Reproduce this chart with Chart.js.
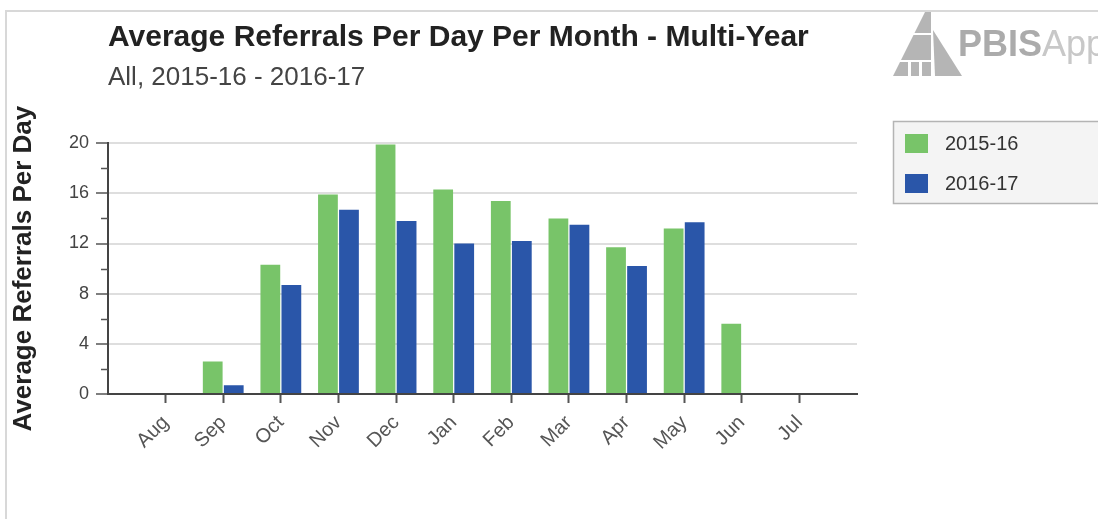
<!DOCTYPE html>
<html>
<head>
<meta charset="utf-8">
<script src="https://cdn.jsdelivr.net/npm/chart.js@4/dist/chart.umd.min.js"></script>
<style>
  html, body { margin: 0; padding: 0; background: #ffffff; }
  #wrap { position: relative; width: 1098px; height: 519px; overflow: hidden; }
  #frame { position: absolute; left: 5px; top: 10px; width: 1200px; height: 600px;
           border-top: 2px solid #d8d8d8; border-left: 2px solid #d8d8d8; }
  canvas { position: absolute; left: 0; top: 0; }
</style>
</head>
<body>
<div id="wrap">
  <div id="frame"></div>
  <canvas id="c" width="1098" height="519"></canvas>
</div>
<script>
// ---- data ----
const titleText = 'Average Referrals Per Day Per Month - Multi-Year';
const subtitleText = 'All, 2015-16 - 2016-17';
const yAxisTitle = 'Average Referrals Per Day';
const months = ['Aug', 'Sep', 'Oct', 'Nov', 'Dec', 'Jan', 'Feb', 'Mar', 'Apr', 'May', 'Jun', 'Jul'];
const seriesNames = ['2015-16', '2016-17'];
const values2015_16 = [null, 2.6, 10.3, 15.9, 19.9, 16.3, 15.4, 14.0, 11.7, 13.2, 5.6, null];
const values2016_17 = [null, 0.7, 8.7, 14.7, 13.8, 12.0, 12.2, 13.5, 10.2, 13.7, null, null];
const yTicks = [0, 4, 8, 12, 16, 20];

const seriesColors = ['#78c469', '#2a56a9'];

// padded categories: one empty slot each side (axis spans a full category beyond first/last month)
const labels = [''].concat(months, ['']);
const pad = arr => [null].concat(arr, [null]);

const minorTicks = {
  id: 'minorTicks',
  afterDraw(chart) {
    const y = chart.scales.y;
    const ctx = chart.ctx;
    ctx.save();
    ctx.strokeStyle = '#555';
    ctx.lineWidth = 1.5;
    for (let i = 0; i < yTicks.length - 1; i++) {
      const v = (yTicks[i] + yTicks[i + 1]) / 2;
      const py = Math.round(y.getPixelForValue(v)) + 0.5;
      ctx.beginPath();
      ctx.moveTo(y.right - 7, py);
      ctx.lineTo(y.right, py);
      ctx.stroke();
    }
    ctx.restore();
  }
};

const boxLegend = {
  id: 'boxLegend',
  afterDraw(chart) {
    const ctx = chart.ctx;
    ctx.save();
    const bx = 893.5, by = 121.5, bw = 240, bh = 82;
    ctx.fillStyle = '#f4f4f4';
    ctx.fillRect(bx, by, bw, bh);
    ctx.strokeStyle = '#b4b4b4';
    ctx.lineWidth = 1.5;
    ctx.strokeRect(bx, by, bw, bh);
    ctx.font = '20px "Liberation Sans", Arial, sans-serif';
    ctx.textBaseline = 'middle';
    ctx.textAlign = 'left';
    chart.data.datasets.forEach((ds, i) => {
      const yTop = 134 + i * 40;
      ctx.fillStyle = ds.backgroundColor;
      ctx.fillRect(905, yTop, 23, 19);
      ctx.fillStyle = '#333';
      ctx.fillText(ds.label, 945, yTop + 10);
    });
    ctx.restore();
  }
};

const logo = {
  id: 'logo',
  afterDraw(chart) {
    const ctx = chart.ctx;
    ctx.save();
    ctx.fillStyle = '#b5b5b5';
    // left "A" body
    ctx.beginPath();
    ctx.moveTo(925, 12);
    ctx.lineTo(931, 12);
    ctx.lineTo(931, 76);
    ctx.lineTo(893, 76);
    ctx.closePath();
    ctx.fill();
    // right slim triangle
    ctx.beginPath();
    ctx.moveTo(933, 30);
    ctx.lineTo(962, 76);
    ctx.lineTo(935, 76);
    ctx.closePath();
    ctx.fill();
    ctx.fillStyle = '#ffffff';
    ctx.fillRect(905, 33, 26, 2);
    ctx.fillRect(897, 60, 34, 2);
    ctx.fillRect(908, 62, 3, 14);
    ctx.fillRect(919, 62, 3, 14);
    ctx.font = 'bold 36px "Liberation Sans", Arial, sans-serif';
    ctx.textBaseline = 'alphabetic';
    ctx.textAlign = 'left';
    ctx.fillStyle = '#ababab';
    ctx.fillText('PBIS', 958, 56);
    const w = ctx.measureText('PBIS').width;
    ctx.font = '36px "Liberation Sans", Arial, sans-serif';
    ctx.fillStyle = '#c8c8c8';
    ctx.fillText('Apps', 958 + w, 56);
    ctx.restore();
  }
};

new Chart(document.getElementById('c'), {
  type: 'bar',
  data: {
    labels: labels,
    datasets: [
      { label: seriesNames[0], data: pad(values2015_16), backgroundColor: seriesColors[0] },
      { label: seriesNames[1], data: pad(values2016_17), backgroundColor: seriesColors[1] }
    ]
  },
  options: {
    responsive: false,
    animation: false,
    layout: { padding: { left: 0, right: 241, top: 10, bottom: 0 } },
    datasets: { bar: { barPercentage: 0.94, categoryPercentage: 0.73 } },
    plugins: {
      legend: { display: false },
      tooltip: { enabled: false },
      title: {
        display: true, text: titleText, align: 'start', fullSize: false,
        color: '#222', font: { family: '"Liberation Sans", Arial, sans-serif', size: 30, weight: 'bold', lineHeight: 1.2 },
        padding: { top: 10, bottom: 0 }
      },
      subtitle: {
        display: true, text: subtitleText, align: 'start', fullSize: false,
        color: '#444', font: { family: '"Liberation Sans", Arial, sans-serif', size: 26, weight: 'normal', lineHeight: 1.2 },
        padding: { top: 6, bottom: 50 }
      }
    },
    scales: {
      x: {
        offset: false,
        afterFit(scale) { scale.height = 125; },
        grid: {
          offset: false,
          color: 'transparent', drawOnChartArea: false, drawTicks: true, tickLength: 9, tickWidth: 2,
          tickColor: ctx => (ctx.tick && ctx.tick.label === '' ? 'transparent' : '#555')
        },
        border: { display: true, color: '#444', width: 2 },
        ticks: {
          autoSkip: false, minRotation: 45, maxRotation: 45, padding: 8, color: '#555',
          font: { family: '"Liberation Sans", Arial, sans-serif', size: 20 }
        }
      },
      y: {
        min: 0, max: 20,
        afterFit(scale) { scale.width = 108; },
        afterBuildTicks(scale) { scale.ticks = yTicks.map(v => ({ value: v })); },
        grid: { color: '#dedede', lineWidth: 2, drawTicks: true, tickLength: 12, tickColor: '#555', tickWidth: 1.5 },
        border: { display: true, color: '#444', width: 2 },
        ticks: {
          padding: 7, color: '#444',
          font: { family: '"Liberation Sans", Arial, sans-serif', size: 18 }
        },
        title: {
          display: true, text: yAxisTitle, color: '#222',
          font: { family: '"Liberation Sans", Arial, sans-serif', size: 26, weight: 'bold', lineHeight: 1.2 },
          padding: { top: 8, bottom: 0 }
        }
      }
    }
  },
  plugins: [minorTicks, boxLegend, logo]
});
</script>
</body>
</html>
